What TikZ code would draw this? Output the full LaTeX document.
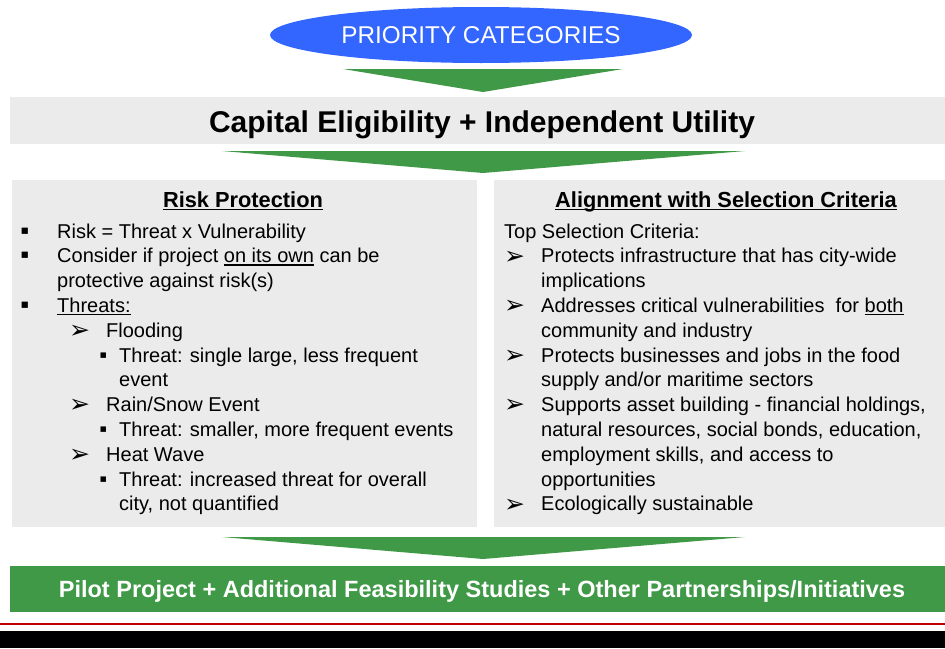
\documentclass[tikz,border=0pt]{standalone}
\usepackage{fontspec}
\setmainfont{Liberation Sans}
\newfontfamily\symfont{DejaVu Sans}
\usetikzlibrary{shapes.geometric}
\definecolor{prioblue}{HTML}{3366FF}
\definecolor{arrowgreen}{HTML}{3F9946}
\definecolor{boxgray}{HTML}{EBEBEB}
\definecolor{linered}{HTML}{C00000}
\newcommand{\ulx}[1]{\setbox0\hbox{#1}\rlap{\vrule width\wd0 height -1.5pt depth 3.0pt}\box0\relax}
\begin{document}
\begin{tikzpicture}[x=1pt,y=-1pt,
  panel/.style={fill=boxgray, draw=none, inner sep=0pt, anchor=north west},
  chevron/.style={fill=arrowgreen, draw=none},
  txt/.style={inner sep=0pt, anchor=base west, font=\fontsize{20}{24}\selectfont},
  head/.style={inner sep=0pt, anchor=base, font=\bfseries\fontsize{21.8}{24}\selectfont},
  sq/.style={inner sep=0pt, anchor=base west, font=\symfont\fontsize{12.5}{12}\selectfont},
  sqs/.style={inner sep=0pt, anchor=base west, font=\symfont\fontsize{11}{11}\selectfont},
  arr/.style={inner sep=0pt, anchor=base west, font=\symfont\fontsize{25}{25}\selectfont},
]
\useasboundingbox (0,0) rectangle (945,648);
\fill[white] (0,0) rectangle (945,648);

% top ellipse
\node[ellipse, fill=prioblue, minimum width=422pt, minimum height=56pt, inner sep=0pt,
      text=white, font=\fontsize{24.3}{24}\selectfont] (prio) at (481,35) {PRIORITY CATEGORIES};

% chevron 1
\fill[chevron] (343,69) -- (623,69) -- (483,92) -- cycle;

% capital box
\node[panel, minimum width=935pt, minimum height=47pt] (capbox) at (10,97) {};
\node[inner sep=0pt, anchor=base, font=\bfseries\fontsize{30}{30}\selectfont] (captxt) at (482,132) {Capital Eligibility + Independent Utility};

% chevron 2
\fill[chevron] (222,151) -- (745,151) -- (483,173) -- cycle;

% panels
\node[panel, minimum width=465pt, minimum height=347pt] (left) at (12,180) {};
\node[panel, minimum width=451pt, minimum height=347pt] (right) at (494,180) {};

\node[head] (lh) at (243,207) {\ulx{Risk Protection}};
\node[head] (rh) at (726,207) {\ulx{Alignment with Selection Criteria}};

% left panel content
\node[sq] (lb1) at (20.5,234) {▪};
\node[txt] (l1) at (57,238) {Risk = Threat x Vulnerability};
\node[sq] (lb2) at (20.5,258.8) {▪};
\node[txt] (l2) at (57,262.8) {Consider if project \ulx{on its own} can be};
\node[txt] (l3) at (57,287.6) {protective against risk(s)};
\node[sq] (lb3) at (20.5,308.4) {▪};
\node[txt] (l4) at (57,312.4) {\ulx{Threats:}};
\node[arr] (la1) at (69,338.5) {➢};
\node[txt] (l5) at (106,337.2) {Flooding};
\node[sqs] (lb4) at (99.5,358) {▪};
\node[txt] (l6) at (119,362) {Threat: single large, less frequent};
\node[txt] (l7) at (119,386.8) {event};
\node[arr] (la2) at (69,412.9) {➢};
\node[txt] (l8) at (106,411.6) {Rain/Snow Event};
\node[sqs] (lb5) at (99.5,432.4) {▪};
\node[txt] (l9) at (119,436.4) {Threat: smaller, more frequent events};
\node[arr] (la3) at (69,462.5) {➢};
\node[txt] (l10) at (106,461.2) {Heat Wave};
\node[sqs] (lb6) at (99.5,482) {▪};
\node[txt] (l11) at (119,486) {Threat: increased threat for overall};
\node[txt] (l12) at (119,510.8) {city, not quantified};

% right panel content
\node[txt] (r1) at (504,238) {Top Selection Criteria:};
\node[arr] (ra1) at (504,264.1) {➢};
\node[txt] (r2) at (541,262.8) {Protects infrastructure that has city-wide};
\node[txt] (r3) at (541,287.6) {implications};
\node[arr] (ra2) at (504,313.7) {➢};
\node[txt] (r4) at (541,312.4) {Addresses critical vulnerabilities \ for \ulx{both}};
\node[txt] (r5) at (541,337.2) {community and industry};
\node[arr] (ra3) at (504,363.3) {➢};
\node[txt] (r6) at (541,362) {Protects businesses and jobs in the food};
\node[txt] (r7) at (541,386.8) {supply and/or maritime sectors};
\node[arr] (ra4) at (504,412.9) {➢};
\node[txt] (r8) at (541,411.6) {Supports asset building - financial holdings,};
\node[txt] (r9) at (541,436.4) {natural resources, social bonds, education,};
\node[txt] (r10) at (541,461.2) {employment skills, and access to};
\node[txt] (r11) at (541,486) {opportunities};
\node[arr] (ra5) at (504,512.1) {➢};
\node[txt] (r12) at (541,510.8) {Ecologically sustainable};

% chevron 3
\fill[chevron] (222,537) -- (745,537) -- (483,559) -- cycle;

% bottom box
\node[panel, fill=arrowgreen, minimum width=935pt, minimum height=46pt] (pilot) at (10,566) {};
\node[inner sep=0pt, anchor=base, text=white, font=\bfseries\fontsize{23.5}{24}\selectfont] (pilottxt) at (482,597.5) {Pilot Project + Additional Feasibility Studies + Other Partnerships/Initiatives};

% footer
\draw[linered, line width=1.5pt] (0,624) -- (945,624);
\fill[black] (0,631) rectangle (945,648);
\end{tikzpicture}
\end{document}
